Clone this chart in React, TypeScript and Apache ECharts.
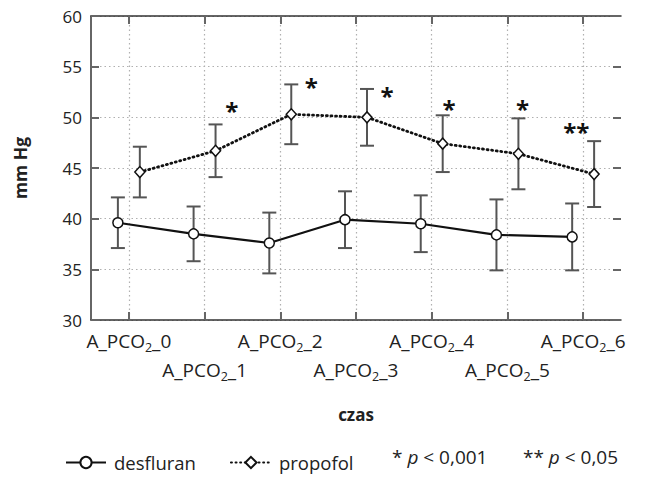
import React, { useEffect, useRef } from 'react';
import * as echarts from 'echarts';

const categories = ['A_PCO2_0', 'A_PCO2_1', 'A_PCO2_2', 'A_PCO2_3', 'A_PCO2_4', 'A_PCO2_5', 'A_PCO2_6'];
const desfluranMean = [39.6, 38.5, 37.6, 39.9, 39.5, 38.4, 38.2];
const desfluranSD = [2.5, 2.7, 3.0, 2.8, 2.8, 3.5, 3.3];
const propofolMean = [44.6, 46.7, 50.3, 50.0, 47.4, 46.4, 44.4];
const propofolSD = [2.5, 2.6, 2.95, 2.8, 2.8, 3.5, 3.25];
const starText = ['*', '*', '*', '*', '*', '**'];
const starCategory = [1.36, 2.41, 3.41, 4.23, 5.2, 5.91];
const starValue = [51.0, 53.3, 52.5, 51.2, 51.2, 48.9];
const yMin = 30;
const yMax = 60;
const yStep = 5;
const legendNotes = [
  { star: '*', text: ' < 0,001' },
  { star: '**', text: ' < 0,05' },
];

const DODGE = 0.145;
const FONT = '"Open Sans", "Noto Sans", sans-serif';

export default function App() {
  const ref = useRef<HTMLDivElement>(null);
  useEffect(() => {
    if (!ref.current) return;
    const chart = echarts.init(ref.current, null, { renderer: 'svg' });
    const desPts = desfluranMean.map((v, i) => [i - DODGE, v]);
    const proPts = propofolMean.map((v, i) => [i + DODGE, v]);
    const desErr = desfluranMean.map((v, i) => [i - DODGE, v, desfluranSD[i]]);
    const proErr = propofolMean.map((v, i) => [i + DODGE, v, propofolSD[i]]);
    const stars = starText.map((t, i) => ({ name: t, value: [starCategory[i], starValue[i]] }));

    const labelFmt = (val: string, idx: number) => {
      const k = val.indexOf('2');
      const base = `{a|${val.slice(0, k)}}{s|2}{a|${val.slice(k + 1)}}`;
      return idx % 2 === 1 ? `\n${base}` : base;
    };

    const errRender = (params: any, api: any) => {
      const x = api.value(0);
      const m = api.value(1);
      const s = api.value(2);
      const top = api.coord([x, m + s]);
      const bot = api.coord([x, m - s]);
      const hw = 7;
      const st = { stroke: '#555', lineWidth: 2 };
      return {
        type: 'group',
        children: [
          { type: 'line', shape: { x1: top[0], y1: top[1], x2: bot[0], y2: bot[1] }, style: st },
          { type: 'line', shape: { x1: top[0] - hw, y1: top[1], x2: top[0] + hw, y2: top[1] }, style: st },
          { type: 'line', shape: { x1: bot[0] - hw, y1: bot[1], x2: bot[0] + hw, y2: bot[1] }, style: st },
        ],
      };
    };

    const gridLine = { show: true, lineStyle: { color: '#b0b0b0', type: [1.5, 3], width: 1.2 } };

    chart.setOption({
      animation: false,
      backgroundColor: '#ffffff',
      textStyle: { fontFamily: FONT },
      grid: { left: 91, right: 24, top: 16, bottom: 157, containLabel: false, outerBoundsMode: 'none' },
      xAxis: [
        {
          type: 'category',
          position: 'bottom',
          data: categories,
          boundaryGap: true,
          axisLine: { show: true, onZero: false, lineStyle: { color: '#333', width: 1.5 } },
          axisTick: { show: true, inside: true, alignWithLabel: true, length: 8, lineStyle: { color: '#666', width: 2 } },
          axisLabel: {
            interval: 0,
            margin: 6,
            color: '#222',
            lineHeight: 29,
            formatter: labelFmt,
            rich: {
              a: { fontSize: 19, fontFamily: FONT, color: '#222', lineHeight: 29 },
              s: { fontSize: 12.5, fontFamily: FONT, color: '#222', padding: [14, 0, 0, 0], lineHeight: 29 },
            },
          },
          splitLine: { ...gridLine, alignWithLabel: true },
          name: 'czas',
          nameLocation: 'middle',
          nameGap: 86,
          nameTextStyle: { fontSize: 17, fontWeight: 'bold', color: '#222', fontFamily: FONT },
        },
        {
          type: 'category',
          position: 'top',
          data: categories,
          boundaryGap: true,
          axisLine: { show: true, onZero: false, lineStyle: { color: '#333', width: 1.5 } },
          axisTick: { show: true, inside: true, alignWithLabel: true, length: 8, lineStyle: { color: '#666', width: 2 } },
          axisLabel: { show: false },
          splitLine: { show: false },
        },
        {
          type: 'value',
          min: -0.5,
          max: 6.5,
          show: false,
          axisLine: { show: false, onZero: false },
          splitLine: { show: false },
        },
      ],
      yAxis: [
        {
          type: 'value',
          position: 'left',
          min: yMin,
          max: yMax,
          interval: yStep,
          axisLine: { show: true, onZero: false, lineStyle: { color: '#333', width: 1.5 } },
          axisTick: { show: true, inside: true, length: 8, lineStyle: { color: '#666', width: 2 } },
          axisLabel: { fontSize: 17, color: '#222', margin: 9, fontFamily: FONT },
          splitLine: gridLine,
          name: 'mm Hg',
          nameLocation: 'middle',
          nameGap: 62,
          nameTextStyle: { fontSize: 17.5, fontWeight: 'bold', color: '#222', fontFamily: FONT },
        },
        {
          type: 'value',
          position: 'right',
          min: yMin,
          max: yMax,
          interval: yStep,
          axisLine: { show: false, onZero: false },
          axisTick: { show: true, inside: true, length: 8, lineStyle: { color: '#666', width: 2 } },
          axisLabel: { show: false },
          splitLine: { show: false },
        },
      ],
      legend: {
        data: ['desfluran', 'propofol'],
        left: 60,
        top: 448,
        itemWidth: 40,
        itemHeight: 14,
        itemGap: 34,
        textStyle: { fontSize: 18.5, color: '#222', fontFamily: FONT, padding: [0, 0, 0, 3] },
      },
      graphic: legendNotes.map((n, i) => ({
        type: 'text',
        left: i === 0 ? 392 : 523,
        top: 447,
        style: {
          text: `{n|${n.star} }{i|p}{n|${n.text}}`,
          rich: {
            n: { fontSize: 19, fontFamily: FONT, fill: '#222', color: '#222' },
            i: { fontSize: 19, fontFamily: FONT, fontStyle: 'italic', fill: '#222', color: '#222' },
          },
        },
      })),
      series: [
        {
          type: 'custom',
          name: 'desErr',
          xAxisIndex: 2,
          yAxisIndex: 0,
          renderItem: errRender,
          encode: { x: 0, y: 1 },
          data: desErr,
          z: 1,
          silent: true,
        },
        {
          type: 'custom',
          name: 'proErr',
          xAxisIndex: 2,
          yAxisIndex: 0,
          renderItem: errRender,
          encode: { x: 0, y: 1 },
          data: proErr,
          z: 1,
          silent: true,
        },
        {
          type: 'line',
          name: 'desfluran',
          xAxisIndex: 2,
          yAxisIndex: 0,
          data: desPts,
          symbol: 'circle',
          symbolSize: 10,
          showAllSymbol: true,
          lineStyle: { color: '#111', width: 2.2 },
          itemStyle: { color: '#ffffff', borderColor: '#111', borderWidth: 1.5 },
          z: 3,
        },
        {
          type: 'line',
          name: 'propofol',
          xAxisIndex: 2,
          yAxisIndex: 0,
          data: proPts,
          symbol: 'diamond',
          symbolSize: [10, 11],
          showAllSymbol: true,
          lineStyle: { color: '#111', width: 2.8, type: [1, 3.6], cap: 'round' },
          itemStyle: { color: '#ffffff', borderColor: '#111', borderWidth: 1.5 },
          z: 3,
        },
        {
          type: 'scatter',
          name: 'stars',
          xAxisIndex: 2,
          yAxisIndex: 0,
          data: stars,
          symbolSize: 0,
          itemStyle: { opacity: 0 },
          label: {
            show: true,
            position: 'inside',
            formatter: (p: any) => p.name,
            fontSize: 24,
            fontWeight: 'bold',
            color: '#111',
            opacity: 1,
            fontFamily: FONT,
            offset: [0, 3],
          },
          z: 4,
          silent: true,
        },
      ],
    });
    return () => chart.dispose();
  }, []);
  return <div ref={ref} style={{ position: 'fixed', left: 0, top: 0, width: 645, height: 477, background: '#fff' }} />;
}
